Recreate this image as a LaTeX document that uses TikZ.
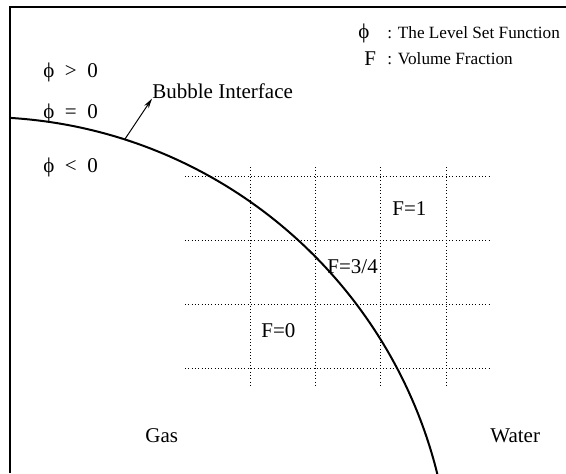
\documentclass[tikz,border=0pt]{standalone}
\usepackage{fontspec}
\setmainfont{Liberation Serif}
\usetikzlibrary{arrows.meta, positioning}

\begin{document}
\begin{tikzpicture}[x=0.5pt, y=-0.5pt,
  lbl/.style={inner sep=0pt, anchor=base west, font=\fontsize{10.5}{12}\selectfont},
  small/.style={inner sep=0pt, anchor=base west, font=\fontsize{8.6}{10}\selectfont},
  gridline/.style={line width=0.5pt, dash pattern=on 0.5pt off 1.15pt}]
\useasboundingbox (0,0) rectangle (566,473);
% frame
\draw[line width=0.8pt] (10,473) -- (10,7) -- (566,7);
% cells
\foreach \y in {176,240,304,368} \draw[gridline] (185,\y) -- (490,\y);
\foreach \x in {250,315,380,446} \draw[gridline] (\x,167) -- (\x,386);
% interface
\begin{scope}
\clip (10,7) rectangle (566,473);
\draw[line width=1pt] (-19,587) circle (470);
\end{scope}
\node[lbl] (p) at (43,77) {ϕ\enspace>\enspace0};
\node[lbl] (z) at (43,118) {ϕ\enspace=\enspace0};
\node[lbl] (n) at (43,172) {ϕ\enspace<\enspace0};
\node[lbl] (bub) at (152,98) {Bubble Interface};
\coordinate (ifc) at (125,139);
\draw[-{Stealth[length=5pt, width=2.6pt]}, line width=0.5pt] (ifc) -- (bub.south west);
% legend
\node[lbl] (lphi) at (358,38) {ϕ};
\node[small] (lphit) at (387,38) {: The Level Set Function};
\node[lbl] (lf) at (364,65) {F};
\node[small] (lft) at (387,64) {: Volume Fraction};
% fractions
\node[lbl] (f1) at (392,215) {F=1};
\node[lbl] (f34) at (327,273) {F=3/4};
\node[lbl] (f0) at (261,337) {F=0};
\node[lbl] (gas) at (145,442) {Gas};
\node[lbl] (water) at (490,442) {Water};
\end{tikzpicture}
\end{document}
